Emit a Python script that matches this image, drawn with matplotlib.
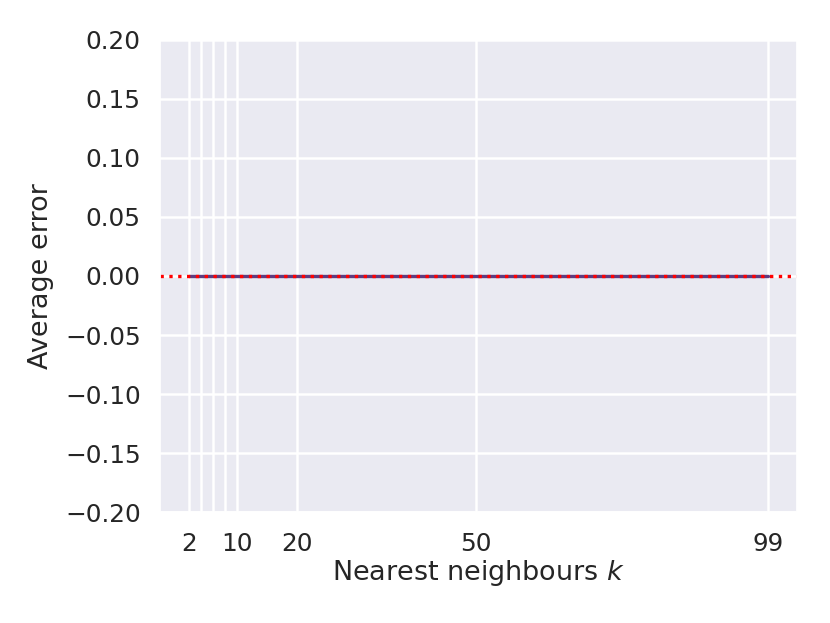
import numpy as np
import matplotlib
matplotlib.use("Agg")
import matplotlib.pyplot as plt
import seaborn as sns

# neighbour counts and the average error for each
ks = [2, 4, 6, 8, 10, 20, 50, 99]
avg_error = [0.0, 0.0, 0.0, 0.0, 0.0, 0.0, 0.0, 0.0]
tick_labels = ["2", "", "", "", "10", "20", "50", "99"]
y_ticks = [-0.20, -0.15, -0.10, -0.05, 0.00, 0.05, 0.10, 0.15, 0.20]


def main():
    sns.set_theme(style="darkgrid", font_scale=1.62,
                  rc={"grid.linewidth": 1.8, "xtick.major.pad": 8, "ytick.major.pad": 8})
    fig, ax = plt.subplots(figsize=(8.3, 6.23), dpi=100)
    fig.subplots_adjust(left=0.193, right=0.96, top=0.936, bottom=0.178)

    ax.plot(ks, avg_error, color="#5e3c80", linewidth=2.4)
    ax.axhline(0, color="red", linestyle=":", linewidth=2.4)

    ax.set_xticks(ks)
    ax.set_xticklabels(tick_labels)
    ax.set_yticks(y_ticks)
    ax.set_ylim(-0.2, 0.2)
    ax.set_xlabel("Nearest neighbours $k$", labelpad=2)
    ax.set_ylabel("Average error", labelpad=8)

    fig.savefig("out.png", dpi=100)
    plt.close(fig)


if __name__ == "__main__":
    main()
